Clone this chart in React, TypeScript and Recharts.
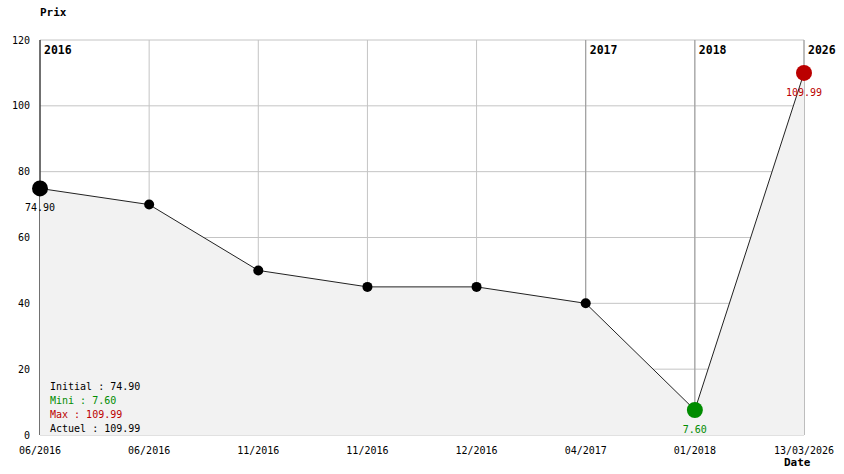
import { ComposedChart, Area, XAxis, YAxis, CartesianGrid, ReferenceLine } from "recharts"

const dateLabels = ["06/2016", "06/2016", "11/2016", "11/2016", "12/2016", "04/2017", "01/2018", "13/03/2026"]
const prices = [74.9, 70, 50, 45, 45, 40, 7.6, 109.99]
const yTicks = [0, 20, 40, 60, 80, 100, 120]
const yearMarks = [
  { idx: 0, year: "2016" },
  { idx: 5, year: "2017" },
  { idx: 6, year: "2018" },
  { idx: 7, year: "2026" },
]

const MONO = "'DejaVu Sans Mono', 'Liberation Mono', monospace"
const GREEN = "#008c00"
const RED = "#bb0000"

const data = prices.map((p, i) => ({ i, price: p }))

const minIdx = prices.indexOf(Math.min(...prices))
const maxIdx = prices.indexOf(Math.max(...prices))
const lastIdx = prices.length - 1

// year separators go through the x scale so they sit on the data points
const yearCoords = (idxs: number[]) => (props: any) => {
  const { xAxis, offset } = props
  const scale = xAxis && xAxis.scale
  if (typeof scale === "function") return idxs.map(i => scale(i))
  return idxs.map(i => offset.left + (offset.width * i) / lastIdx)
}

function PriceDot(props: any) {
  const { cx, cy, index } = props
  if (cx == null || cy == null) return null
  let color = "#000"
  let big = false
  if (index === 0) big = true
  if (index === minIdx) { color = GREEN; big = true }
  if (index === maxIdx) { color = RED; big = true }
  return (
    <g key={`dot-${index}`}>
      <circle cx={cx} cy={cy} r={big ? 8 : 5} fill={color} stroke="none" />
      {big && (
        <text x={cx} y={cy + 23} textAnchor="middle" fontFamily={MONO} fontSize={10} fill={color}>
          {prices[index].toFixed(2)}
        </text>
      )}
    </g>
  )
}

function YearLabel(props: any) {
  const { viewBox, value } = props
  return (
    <text x={viewBox.x + 4} y={viewBox.y + 14} fontFamily={MONO} fontSize={11.5} fontWeight="bold" fill="#000">
      {value}
    </text>
  )
}

export default function App() {
  return (
    <div style={{ position: "absolute", left: 0, top: 0, width: 844, height: 474, background: "#fff" }}>
      <ComposedChart width={844} height={474} data={data} margin={{ top: 40, right: 40, bottom: 9, left: 0 }}>
        <CartesianGrid stroke="#c4c4c4" strokeWidth={1} />
        <CartesianGrid
          horizontal={false}
          stroke="#999"
          verticalCoordinatesGenerator={yearCoords(yearMarks.filter(m => m.idx !== 0).map(m => m.idx))}
        />
        <CartesianGrid
          horizontal={false}
          stroke="#000"
          verticalCoordinatesGenerator={yearCoords([0])}
        />
        <XAxis
          dataKey="i"
          type="number"
          domain={[0, lastIdx]}
          ticks={data.map(d => d.i)}
          tickFormatter={(v: number) => dateLabels[v]}
          axisLine={false}
          tickLine={false}
          tickMargin={6}
          height={30}
          interval={0}
          tick={{ fontFamily: MONO, fontSize: 10, fill: "#000" }}
        />
        <YAxis
          domain={[0, 120]}
          ticks={yTicks}
          width={40}
          axisLine={false}
          tickLine={false}
          tickSize={0}
          tickMargin={10}
          tick={{ fontFamily: MONO, fontSize: 10, fill: "#000" }}
        />
        <Area
          type="linear"
          dataKey="price"
          stroke="#222"
          strokeWidth={1}
          fill="#f2f2f2"
          fillOpacity={1}
          dot={PriceDot}
          activeDot={false}
          isAnimationActive={false}
        />
        {yearMarks.map(m => (
          <ReferenceLine
            key={m.year}
            x={m.idx}
            stroke="none"
            label={<YearLabel value={m.year} />}
          />
        ))}
      </ComposedChart>
      <div style={{ position: "absolute", left: 40, top: 6, fontFamily: MONO, fontSize: 11, fontWeight: "bold" }}>Prix</div>
      <div style={{ position: "absolute", left: 784, top: 456, fontFamily: MONO, fontSize: 11, fontWeight: "bold" }}>Date</div>
      <div style={{ position: "absolute", left: 50, top: 380, fontFamily: MONO, fontSize: 10, lineHeight: "14px", whiteSpace: "pre" }}>
        <div style={{ color: "#000" }}>{`Initial : ${prices[0].toFixed(2)}`}</div>
        <div style={{ color: GREEN }}>{`Mini : ${prices[minIdx].toFixed(2)}`}</div>
        <div style={{ color: RED }}>{`Max : ${prices[maxIdx].toFixed(2)}`}</div>
        <div style={{ color: "#000" }}>{`Actuel : ${prices[lastIdx].toFixed(2)}`}</div>
      </div>
    </div>
  )
}
